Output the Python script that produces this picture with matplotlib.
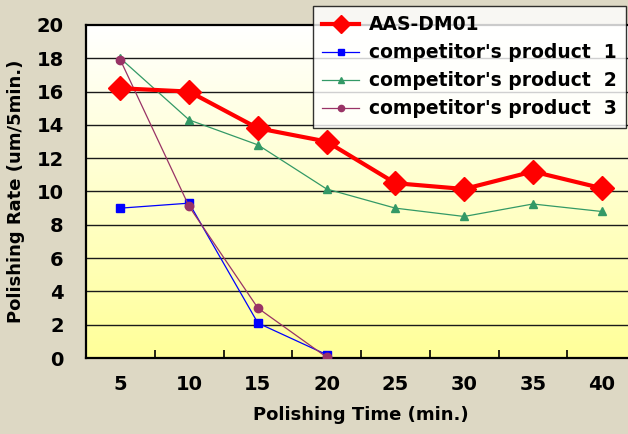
import numpy as np
import matplotlib
matplotlib.use("Agg")
import matplotlib.pyplot as plt
from matplotlib.colors import LinearSegmentedColormap

times = ["5", "10", "15", "20", "25", "30", "35", "40"]
aas = [16.2, 16.0, 13.8, 13.0, 10.5, 10.15, 11.2, 10.2]
comp1 = [9.0, 9.3, 2.1, 0.2]
comp2 = [18.0, 14.3, 12.8, 10.15, 9.0, 8.5, 9.25, 8.8]
comp3 = [17.9, 9.1, 3.0, 0.05]
yticks = [0, 2, 4, 6, 8, 10, 12, 14, 16, 18, 20]

plt.rcParams['font.family'] = ['DejaVu Sans']
plt.rcParams['font.weight'] = 'bold'

fig = plt.figure(figsize=(6.28, 4.34), dpi=100, facecolor='#ddd8c4')
ax = fig.add_axes([86/628, 1-358/434, 550/628, (358-25)/434])

x = np.arange(len(times))
ax.set_xlim(-0.5, len(times)-0.5)
ax.set_ylim(0, 20)

cmap = LinearSegmentedColormap.from_list('g', ['#ffff99', '#ffffff'])
grad = np.linspace(0, 1, 256).reshape(-1, 1)
ax.imshow(grad, cmap=cmap, aspect='auto', origin='lower',
          extent=[-0.5, len(times)-0.5, 0, 20], zorder=0)

for v in yticks[1:-1]:
    ax.axhline(v, color='#1a1a1a', lw=1.0, zorder=1)

ax.plot(x, aas, color='#ff0000', lw=3, marker='D', ms=12, label='AAS-DM01', zorder=5)
ax.plot(x[:len(comp1)], comp1, color='#0000ff', lw=0.9, marker='s', ms=6,
        label="competitor's product  1", zorder=4)
ax.plot(x, comp2, color='#339966', lw=0.9, marker='^', ms=6,
        label="competitor's product  2", zorder=4)
ax.plot(x[:len(comp3)], comp3, color='#993366', lw=0.9, marker='o', ms=6,
        label="competitor's product  3", zorder=4)

ax.set_xticks(x)
ax.set_xticklabels(times)
ax.set_xticks(np.arange(0.5, len(times)-0.5, 1), minor=True)
ax.tick_params(axis='x', which='major', length=0, pad=12, labelsize=14)
ax.tick_params(axis='x', which='minor', direction='in', length=6, width=1.2, color='black')
ax.set_yticks(yticks)
ax.tick_params(axis='y', length=0, pad=16, labelsize=14)

for s in ['left', 'bottom', 'top']:
    ax.spines[s].set_linewidth(1.6)
    ax.spines[s].set_color('black')
ax.spines['right'].set_visible(False)

ax.set_xlabel('Polishing Time (min.)', fontsize=13, fontweight='bold', labelpad=9)
ax.set_ylabel('Polishing Rate (um/5min.)', fontsize=13, fontweight='bold', labelpad=8)

leg = fig.legend(loc='upper right', bbox_to_anchor=(626/628, 1-6/434),
                 fontsize=13.5, frameon=True, fancybox=False, borderaxespad=0,
                 handlelength=2.0, handletextpad=0.5, labelspacing=0.48,
                 borderpad=0.5, markerscale=0.75)
leg.get_frame().set_edgecolor('black')
leg.get_frame().set_linewidth(1.0)
for t in leg.get_texts():
    t.set_fontweight('bold')

fig.savefig('out.png', dpi=100, facecolor=fig.get_facecolor())
